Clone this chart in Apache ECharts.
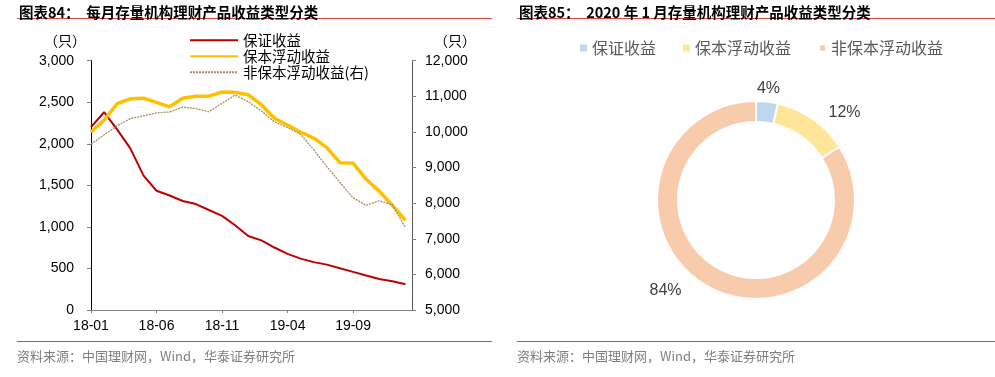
<!DOCTYPE html>
<html>
<head>
<meta charset="utf-8">
<script src="https://cdn.jsdelivr.net/npm/echarts@6/dist/echarts.min.js"></script>
<style>
  html, body { margin: 0; padding: 0; background: #fff; }
  #chart-container { width: 995px; height: 377px; }
</style>
</head>
<body>
<div id="chart-container"></div>
<script>
const months = ["18-01", "18-02", "18-03", "18-04", "18-05", "18-06", "18-07", "18-08", "18-09", "18-10", "18-11", "18-12",
  "19-01", "19-02", "19-03", "19-04", "19-05", "19-06", "19-07", "19-08", "19-09", "19-10", "19-11", "19-12", "20-01"];

// 保证收益 (left axis)
const guaranteed = [2200, 2380, 2170, 1945, 1620, 1435, 1378, 1312, 1275, 1203, 1133, 1020,
  890, 838, 752, 676, 618, 576, 546, 503, 459, 415, 373, 345, 310];
// 保本浮动收益 (left axis)
const principalFloat = [2140, 2286, 2483, 2541, 2549, 2499, 2445, 2549, 2571, 2573, 2623, 2619,
  2590, 2471, 2308, 2226, 2140, 2070, 1955, 1773, 1769, 1573, 1430, 1260, 1080];
// 非保本浮动收益 (right axis)
const nonPrincipalFloat = [9652, 9920, 10170, 10375, 10450, 10535, 10560, 10695, 10655, 10569, 10803, 11036,
  10850, 10590, 10280, 10124, 9935, 9500, 9025, 8580, 8150, 7940, 8065, 7955, 7310];

// 2020-01 breakdown
const pieNames = ["保证收益", "保本浮动收益", "非保本浮动收益"];
const pieValues = [310, 1080, 7320];
const pieColors = ["#BDD7EE", "#FFE699", "#F8CBAD"];

const FONT = "'Liberation Sans', 'Noto Sans CJK SC', sans-serif";
const CJK = "'Noto Sans CJK SC', sans-serif";

const chart = echarts.init(document.getElementById("chart-container"));

function pairs(arr) {
  return arr.map((v, i) => [i, v]);
}

// nudges for the pie labels, excel puts them closer to the ring
const pieLabelOffsets = [[-22, -5], [0, 0], [-12, -3]];

const option = {
  animation: false,
  backgroundColor: "#fff",
  title: [
    {
      text: "图表84：  每月存量机构理财产品收益类型分类",
      left: 14, top: 0,
      textStyle: { fontFamily: CJK, fontSize: 14.5, fontWeight: "bold", color: "#000" }
    },
    {
      text: "图表85：  2020 年 1 月存量机构理财产品收益类型分类",
      left: 514, top: 0,
      textStyle: { fontFamily: CJK, fontSize: 14.5, fontWeight: "bold", color: "#000" }
    }
  ],
  graphic: [
    { type: "line", shape: { x1: 17, y1: 18.5, x2: 492, y2: 18.5 }, style: { stroke: "#E5463B", lineWidth: 1 } },
    { type: "line", shape: { x1: 517, y1: 18.5, x2: 995, y2: 18.5 }, style: { stroke: "#E5463B", lineWidth: 1 } },
    { type: "line", shape: { x1: 17, y1: 341.5, x2: 492, y2: 341.5 }, style: { stroke: "#E5463B", lineWidth: 1 } },
    { type: "line", shape: { x1: 517, y1: 341.5, x2: 995, y2: 341.5 }, style: { stroke: "#E5463B", lineWidth: 1 } },
    { type: "text", left: 17, top: 350, style: { text: "资料来源：中国理财网，Wind，华泰证券研究所", font: "13px " + CJK, fill: "#808080" } },
    { type: "text", left: 517, top: 350, style: { text: "资料来源：中国理财网，Wind，华泰证券研究所", font: "13px " + CJK, fill: "#808080" } },
    { type: "text", left: 44, top: 34, style: { text: "（只）", font: "14px " + CJK, fill: "#000" } },
    { type: "text", left: 434, top: 34, style: { text: "（只）", font: "14px " + CJK, fill: "#000" } }
  ],
  legend: [
    {
      orient: "vertical",
      left: 184, top: 28,
      itemWidth: 48, itemHeight: 14, itemGap: 1.5,
      itemStyle: { opacity: 0 },
      textStyle: { fontFamily: CJK, fontSize: 14.5, color: "#000" },
      data: ["保证收益", "保本浮动收益", "非保本浮动收益(右)"]
    },
    {
      orient: "horizontal",
      left: 575, top: 35,
      itemWidth: 7, itemHeight: 7, itemGap: 27,
      textStyle: { fontFamily: CJK, fontSize: 16, color: "#595959" },
      data: pieNames.map((n, i) => ({ name: n, icon: "rect", itemStyle: { color: pieColors[i], opacity: 1 } }))
    }
  ],
  grid: { left: 91, right: 583, top: 60.7, bottom: 67 },
  xAxis: {
    type: "value",
    min: 0, max: 24.5, interval: 5,
    splitLine: { show: false },
    axisLine: { show: true, lineStyle: { color: "#808080", width: 1 } },
    axisTick: { show: true, length: 3, lineStyle: { color: "#808080" } },
    axisLabel: {
      margin: 9, showMaxLabel: false,
      fontFamily: FONT, fontSize: 14, color: "#000",
      formatter: v => months[v] || ""
    }
  },
  yAxis: [
    {
      type: "value", min: 0, max: 3000, interval: 500,
      splitLine: { show: false },
      axisLine: { show: true, lineStyle: { color: "#000", width: 1 } },
      axisTick: { show: true, length: 4, lineStyle: { color: "#808080" } },
      axisLabel: { margin: 17, fontFamily: FONT, fontSize: 14, color: "#000",
        formatter: v => v.toLocaleString("en-US") }
    },
    {
      type: "value", min: 5000, max: 12000, interval: 1000,
      splitLine: { show: false },
      axisLine: { show: true, lineStyle: { color: "#595959", width: 1 } },
      axisTick: { show: true, length: 4, lineStyle: { color: "#808080" } },
      axisLabel: { margin: 13, fontFamily: FONT, fontSize: 14, color: "#000",
        formatter: v => v.toLocaleString("en-US") }
    }
  ],
  series: [
    {
      name: "保证收益", type: "line", yAxisIndex: 0,
      data: pairs(guaranteed), symbol: "none",
      lineStyle: { color: "#C00000", width: 2 }, itemStyle: { color: "#C00000" }
    },
    {
      name: "保本浮动收益", type: "line", yAxisIndex: 0,
      data: pairs(principalFloat), symbol: "none",
      lineStyle: { color: "#FFC000", width: 3.5 }, itemStyle: { color: "#FFC000" }
    },
    {
      name: "非保本浮动收益(右)", type: "line", yAxisIndex: 1,
      data: pairs(nonPrincipalFloat), symbol: "none",
      lineStyle: { color: "#A89060", width: 1.3, type: [2, 1] }, itemStyle: { color: "#A89060" }
    },
    {
      type: "pie",
      center: [756, 200],
      radius: [78, 99],
      startAngle: 90,
      clockwise: true,
      legendHoverLink: false,
      itemStyle: { borderColor: "#fff", borderWidth: 2 },
      label: {
        show: true, position: "outside",
        fontFamily: FONT, fontSize: 16, color: "#404040",
        formatter: p => Math.round(p.percent) + "%"
      },
      labelLine: { show: false, length: 8, length2: 6 },
      data: pieNames.map((n, i) => ({
        name: n, value: pieValues[i],
        itemStyle: { color: pieColors[i] },
        label: { offset: pieLabelOffsets[i] }
      }))
    }
  ]
};

chart.setOption(option);
</script>
</body>
</html>
